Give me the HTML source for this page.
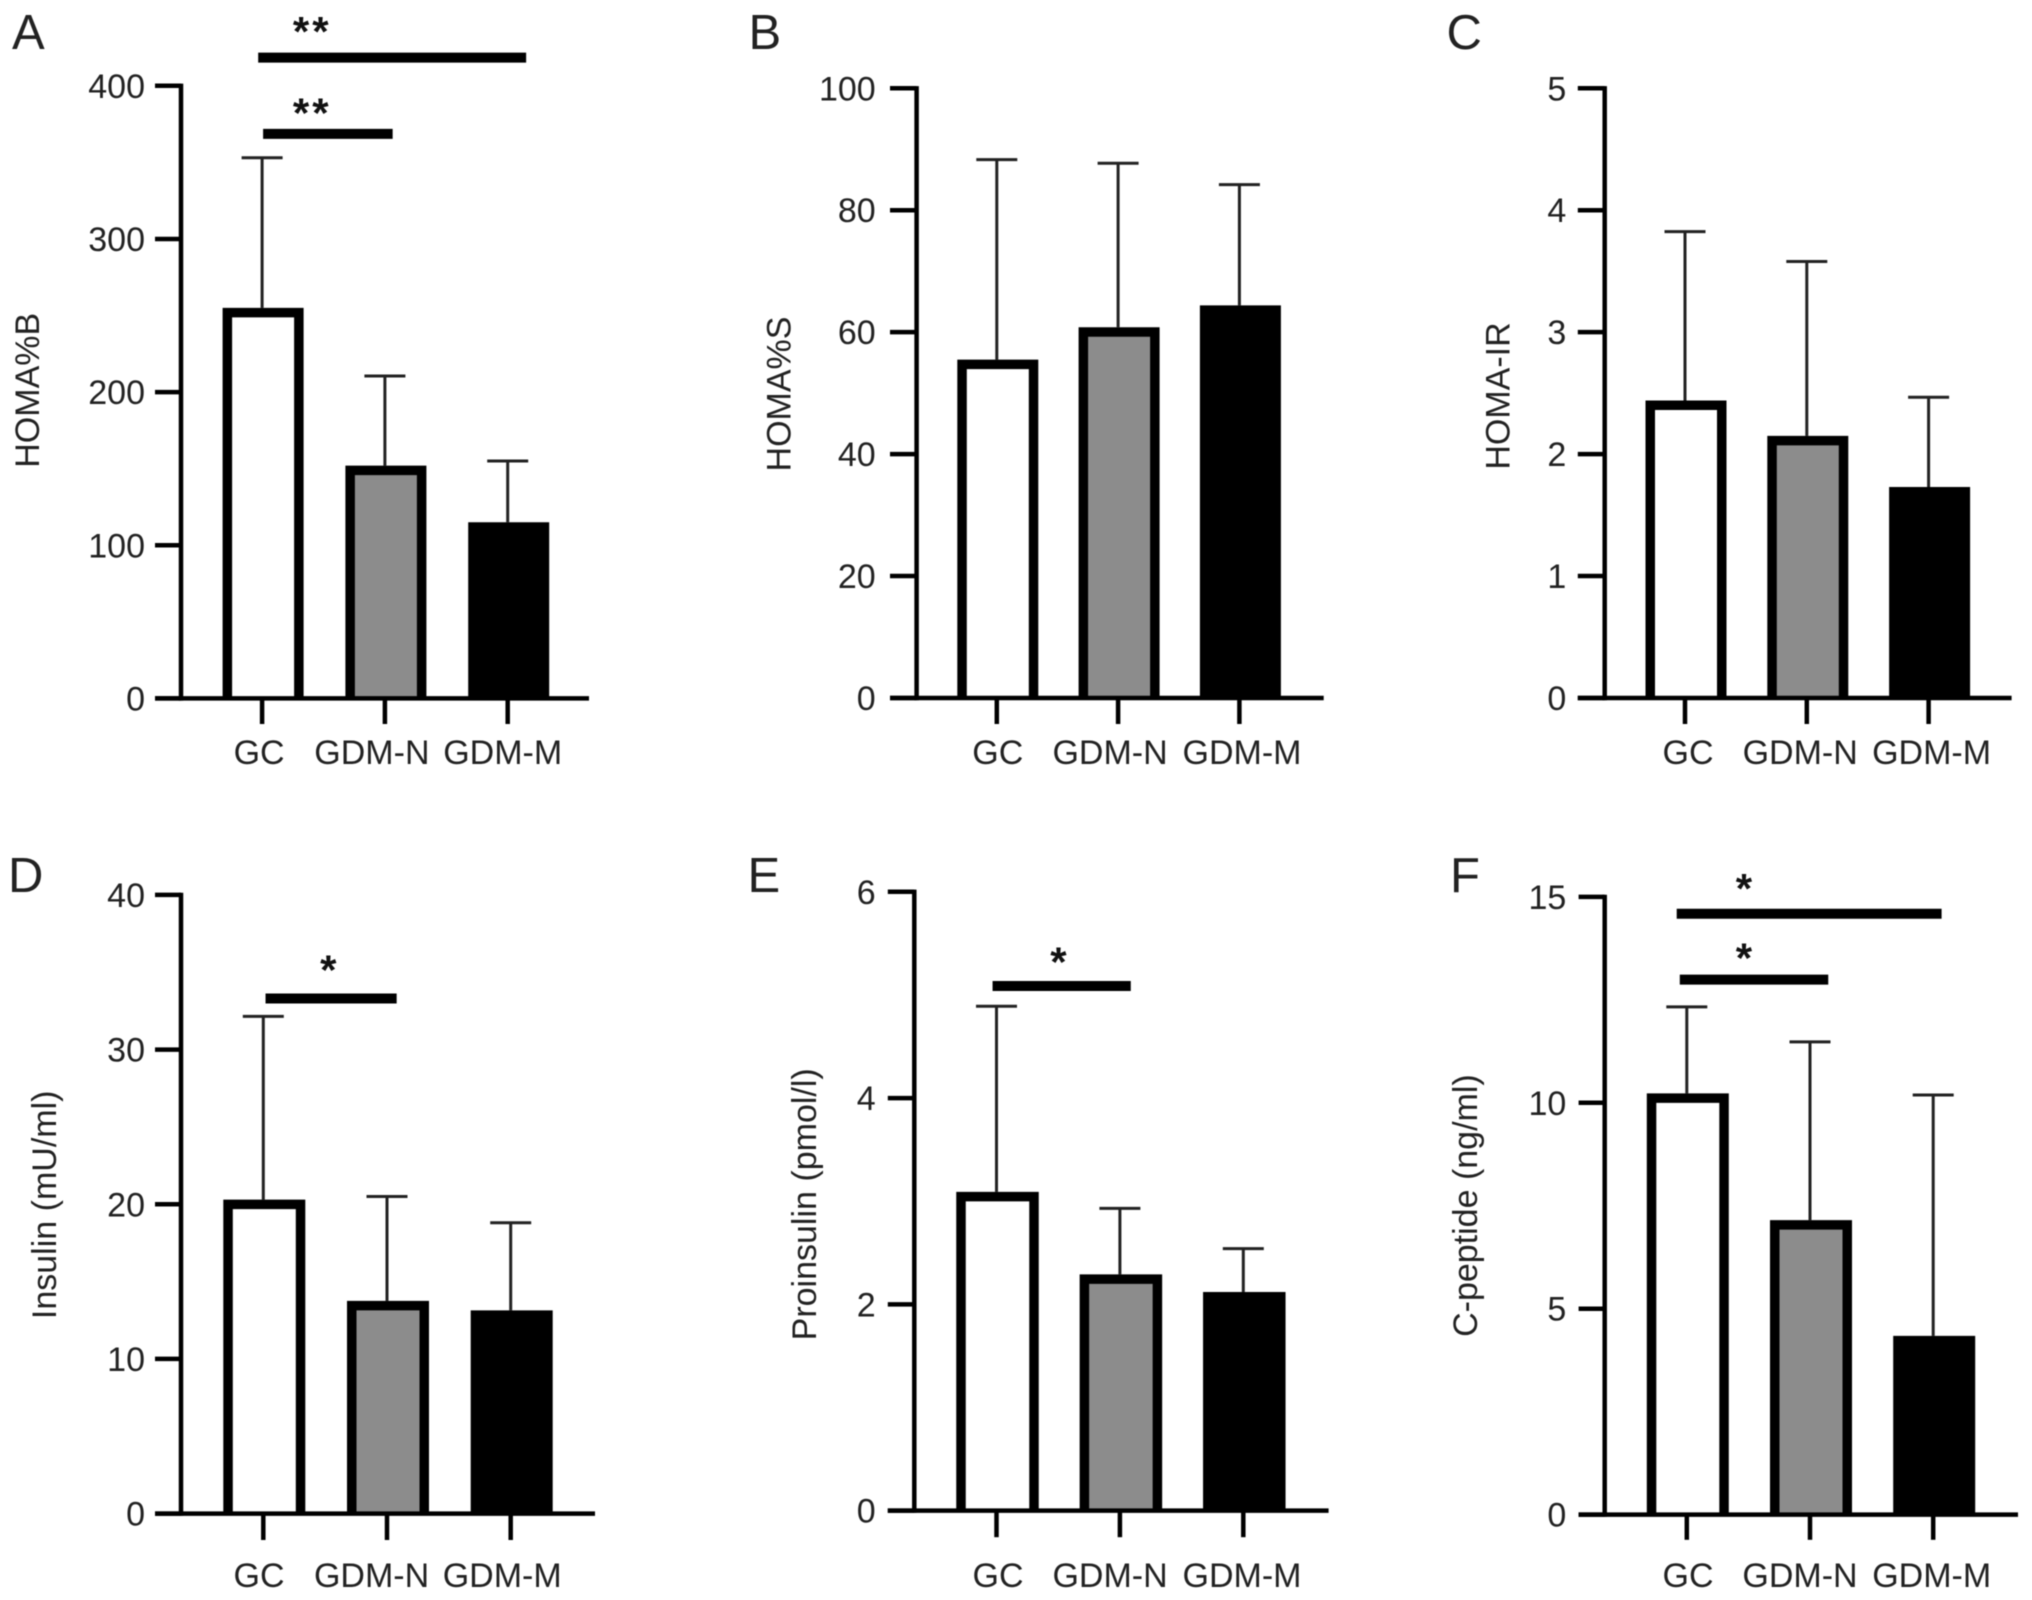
<!DOCTYPE html>
<html lang="en">
<head>
<meta charset="utf-8">
<title>HOMA and insulin measures by group</title>
<style>
  html, body { margin: 0; padding: 0; background: #fff; }
  svg { display: block; filter: blur(0.6px); }
  text { font-family: "Liberation Sans", Arial, sans-serif; fill: #222; }
</style>
</head>
<body>
<svg id="figure" xmlns="http://www.w3.org/2000/svg" width="2032" height="1600" viewBox="0 0 2032 1600"></svg>
<script>
const categories = ['GC', 'GDM-N', 'GDM-M'];

const ticksA = [0, 100, 200, 300, 400];
const meanA = [255, 152, 115];
const upperA = [353, 210.5, 155];

const ticksB = [0, 20, 40, 60, 80, 100];
const meanB = [55.5, 60.8, 64.4];
const upperB = [88.3, 87.7, 84.2];

const ticksC = [0, 1, 2, 3, 4, 5];
const meanC = [2.44, 2.15, 1.73];
const upperC = [3.825, 3.58, 2.466];

const ticksD = [0, 10, 20, 30, 40];
const meanD = [20.3, 13.75, 13.14];
const upperD = [32.15, 20.5, 18.8];

const ticksE = [0, 2, 4, 6];
const meanE = [3.09, 2.29, 2.12];
const upperE = [4.89, 2.93, 2.54];

const ticksF = [0, 5, 10, 15];
const meanF = [10.23, 7.15, 4.34];
const upperF = [12.33, 11.48, 10.19];

/* Significance annotations: from/to/mid are in category units, level/starLevel in axis units */
const sigA = [
  { from: -0.04, to: 2.142, level: 418.4, mid: 0.40, starLevel: 439.7, stars: '**' },
  { from: 0, to: 1.055, level: 368.6, mid: 0.40, starLevel: 386.4, stars: '**' }
];
const sigB = [];
const sigC = [];
const sigD = [{ from: 0.01, to: 1.07, level: 33.3, mid: 0.53, starLevel: 35.55, stars: '*' }];
const sigE = [{ from: -0.04, to: 1.08, level: 5.087, mid: 0.506, starLevel: 5.38, stars: '*' }];
const sigF = [
  { from: -0.09, to: 2.06, level: 14.59, mid: 0.468, starLevel: 15.36, stars: '*' },
  { from: -0.065, to: 1.14, level: 12.99, mid: 0.468, starLevel: 13.67, stars: '*' }
];

const panels = [
  { id: 'a', letter: 'A', letterX: 12, letterY: 49, title: 'HOMA%B', titleX: 39, titleY: 390.3,
    axisX: 181, tickLeft: 155, top: 85.8, base: 698.4, right: 589, tickEnd: 724, labelRight: 145, labelBase: 764,
    first: 263.1, step: 122.8, barW: 81, labelShift: [-4, -14, -6],
    ticks: ticksA, mean: meanA, upper: upperA, sig: sigA },
  { id: 'b', letter: 'B', letterX: 748.5, letterY: 49, title: 'HOMA%S', titleX: 790.5, titleY: 394,
    axisX: 916.6, tickLeft: 890, top: 88.3, base: 698, right: 1323.7, tickEnd: 724, labelRight: 875.7, labelBase: 764,
    first: 997.8, step: 121.3, barW: 81, labelShift: [0, -9, 1.6],
    ticks: ticksB, mean: meanB, upper: upperB, sig: sigB },
  { id: 'c', letter: 'C', letterX: 1446.5, letterY: 49, title: 'HOMA-IR', titleX: 1509.7, titleY: 396,
    axisX: 1604.7, tickLeft: 1577.8, top: 88.3, base: 698, right: 2011.6, tickEnd: 724, labelRight: 1566.3, labelBase: 764,
    first: 1686, step: 121.8, barW: 81, labelShift: [2, -7.6, 2],
    ticks: ticksC, mean: meanC, upper: upperC, sig: sigC },
  { id: 'd', letter: 'D', letterX: 8, letterY: 891.8, title: 'Insulin (mU/ml)', titleX: 56, titleY: 1204.8,
    axisX: 181, tickLeft: 155, top: 894.9, base: 1513.6, right: 595, tickEnd: 1540, labelRight: 145, labelBase: 1587,
    first: 264.3, step: 123.7, barW: 82, labelShift: [-5.3, -16.4, -9.5],
    ticks: ticksD, mean: meanD, upper: upperD, sig: sigD },
  { id: 'e', letter: 'E', letterX: 747.5, letterY: 891.8, title: 'Proinsulin (pmol/l)', titleX: 815.8, titleY: 1204.3,
    axisX: 914.3, tickLeft: 887.8, top: 891.8, base: 1510.6, right: 1328.6, tickEnd: 1537.2, labelRight: 875.7, labelBase: 1587,
    first: 997.5, step: 123.4, barW: 82.5, labelShift: [0.5, -10.8, -2.3],
    ticks: ticksE, mean: meanE, upper: upperE, sig: sigE },
  { id: 'f', letter: 'F', letterX: 1450, letterY: 891.8, title: 'C-peptide (ng/ml)', titleX: 1477, titleY: 1205.6,
    axisX: 1604.7, tickLeft: 1578.6, top: 896.9, base: 1514.6, right: 2018, tickEnd: 1539.8, labelRight: 1566.3, labelBase: 1587,
    first: 1687.8, step: 123.2, barW: 82, labelShift: [0.2, -11, -2.5],
    ticks: ticksF, mean: meanF, upper: upperF, sig: sigF }
];

const barFills = ['#ffffff', '#8c8c8c', '#000000'];
const BORDER = 9.5;
const NS = 'http://www.w3.org/2000/svg';
const root = document.getElementById('figure');

function make(tag, attrs, parent) {
  const node = document.createElementNS(NS, tag);
  for (const key in attrs) node.setAttribute(key, attrs[key]);
  parent.appendChild(node);
  return node;
}

function drawPanel(p) {
  const maxTick = p.ticks[p.ticks.length - 1];
  const yScale = v => p.base - (v / maxTick) * (p.base - p.top);
  const xScale = i => p.first + i * p.step;

  const group = make('g', {}, root);
  
  

  const letter = make('text', { x: p.letterX, y: p.letterY, 'font-size': 49 }, group);
  letter.textContent = p.letter;
  
  

  const title = make('text', {
    x: p.titleX, y: p.titleY, 'font-size': 34, 'text-anchor': 'middle',
    transform: 'rotate(-90 ' + p.titleX + ' ' + p.titleY + ')'
  }, group);
  title.textContent = p.title;
  
  

  p.mean.forEach((value, i) => {
    const cx = xScale(i);
    const stemX = cx - 1;
    const stem = make('line', {
      x1: stemX, x2: stemX, y1: yScale(value), y2: yScale(p.upper[i]),
      stroke: '#222', 'stroke-width': 3
    }, group);
    
    

    const cap = make('line', {
      x1: stemX - 20.5, x2: stemX + 20.5, y1: yScale(p.upper[i]), y2: yScale(p.upper[i]),
      stroke: '#222', 'stroke-width': 3
    }, group);
    
    

    const barLeft = cx - p.barW / 2 + BORDER / 2;
    const barRight = cx + p.barW / 2 - BORDER / 2;
    const barTop = yScale(value) + BORDER / 2;
    const bar = make('path', {
      d: 'M' + barLeft + ' ' + p.base + 'L' + barLeft + ' ' + barTop + 'L' + barRight + ' ' + barTop + 'L' + barRight + ' ' + p.base,
      fill: barFills[i], stroke: '#000', 'stroke-width': BORDER
    }, group);
    
    

    const catTick = make('line', {
      x1: stemX, x2: stemX, y1: p.base, y2: p.tickEnd, stroke: '#000', 'stroke-width': 4.5
    }, group);
    
    

    const catLabel = make('text', {
      x: cx + p.labelShift[i], y: p.labelBase, 'font-size': 34, 'text-anchor': 'middle'
    }, group);
    catLabel.textContent = categories[i];
    
    
  });

  const yAxis = make('line', {
    x1: p.axisX, x2: p.axisX, y1: p.top - 2.2, y2: p.base + 2.2, stroke: '#000', 'stroke-width': 4.5
  }, group);
  
  

  const xAxis = make('line', {
    x1: p.tickLeft, x2: p.right, y1: p.base, y2: p.base, stroke: '#000', 'stroke-width': 4.5
  }, group);
  
  

  p.ticks.forEach(value => {
    const tick = make('line', {
      x1: p.tickLeft, x2: p.axisX, y1: yScale(value), y2: yScale(value), stroke: '#000', 'stroke-width': 4.5
    }, group);
    
    

    const label = make('text', {
      x: p.labelRight, y: yScale(value) + 12, 'font-size': 34, 'text-anchor': 'end'
    }, group);
    label.textContent = String(value);
    
    
  });

  p.sig.forEach((s, i) => {
    const line = make('line', {
      x1: xScale(s.from), x2: xScale(s.to), y1: yScale(s.level), y2: yScale(s.level),
      stroke: '#000', 'stroke-width': 10
    }, group);
    
    

    const star = make('text', {
      x: xScale(s.mid), y: yScale(s.starLevel) + 21, 'font-size': 42, 'font-weight': 'bold', 'letter-spacing': 3, 'text-anchor': 'middle', style: 'fill:#111'
    }, group);
    star.textContent = s.stars;
    
    
  });
}

panels.forEach(drawPanel);
</script>
</body>
</html>
